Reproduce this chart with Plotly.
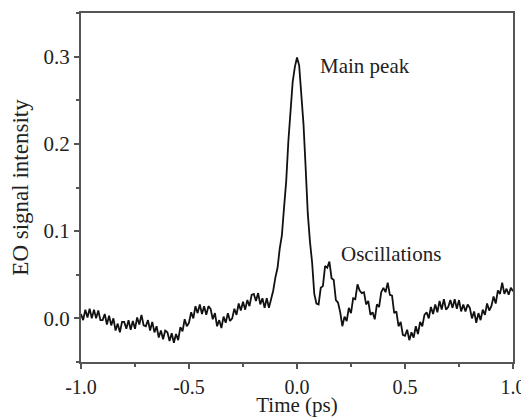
import numpy as np
import plotly.graph_objects as go

# Time axis samples (ps)
time_ps = np.round(np.linspace(-1.0, 1.0, 201), 2)

# EO signal intensity (one value per 0.01 ps, noise included)
eo_signal = [
    0.005, -0.002, 0.010, 0.001, 0.011, 0.000, 0.010, 0.000, 0.009, -0.002,
    -0.002, 0.005, -0.007, 0.003, -0.008, 0.000, -0.014, -0.006, -0.016, -0.004,
    -0.004, -0.012, -0.002, -0.013, -0.003, -0.012, 0.001, -0.007, 0.004, -0.008,
    -0.009, -0.002, -0.014, -0.004, -0.016, -0.009, -0.022, -0.014, -0.024, -0.014,
    -0.016, -0.026, -0.017, -0.028, -0.018, -0.025, -0.010, -0.015, -0.001, -0.009,
    -0.005, 0.007, 0.000, 0.014, 0.006, 0.016, 0.005, 0.014, 0.004, 0.014,
    0.011, -0.001, 0.006, -0.009, -0.002, -0.011, 0.002, -0.005, 0.006, -0.003,
    0.000, 0.011, 0.004, 0.017, 0.009, 0.019, 0.010, 0.021, 0.014, 0.027,
    0.028, 0.020, 0.029, 0.016, 0.023, 0.012, 0.023, 0.012, 0.022, 0.032,
    0.047, 0.058, 0.080, 0.095, 0.127, 0.157, 0.203, 0.235, 0.271, 0.288,
    0.299, 0.290, 0.261, 0.223, 0.173, 0.120, 0.088, 0.064, 0.028, 0.017,
    0.016, 0.035, 0.037, 0.060, 0.058, 0.065, 0.046, 0.044, 0.021, 0.018,
    0.007, -0.009, 0.002, -0.003, 0.012, 0.006, 0.023, 0.022, 0.039, 0.032,
    0.029, 0.030, 0.016, 0.020, 0.004, 0.007, -0.001, 0.016, 0.013, 0.030,
    0.035, 0.030, 0.041, 0.027, 0.026, 0.006, 0.008, -0.009, -0.004, -0.019,
    -0.020, -0.013, -0.025, -0.016, -0.022, -0.009, -0.018, -0.004, -0.009, 0.004,
    0.007, 0.000, 0.013, 0.005, 0.016, 0.007, 0.020, 0.010, 0.022, 0.010,
    0.013, 0.021, 0.012, 0.022, 0.011, 0.021, 0.008, 0.016, 0.008, 0.016,
    0.012, 0.000, 0.008, -0.005, 0.006, -0.002, 0.010, 0.004, 0.017, 0.009,
    0.014, 0.025, 0.017, 0.032, 0.028, 0.041, 0.028, 0.034, 0.027, 0.035, 0.031,
]

x_ticks = [-1.0, -0.5, 0.0, 0.5, 1.0]
x_tick_labels = ["-1.0", "-0.5", "0.0", "0.5", "1.0"]
y_ticks = [0.0, 0.1, 0.2, 0.3]
y_tick_labels = ["0.0", "0.1", "0.2", "0.3"]

annotations_text = ["Main peak", "Oscillations"]
annotations_x = [0.097, 0.194]
annotations_y = [0.289, 0.074]

FONT = "Liberation Serif, Times New Roman, serif"
AXIS_COLOR = "#555555"
TEXT_COLOR = "#222222"

fig = go.Figure()
fig.add_trace(go.Scatter(
    x=time_ps, y=eo_signal, mode="lines",
    line=dict(color="#111111", width=1.8),
    showlegend=False, hoverinfo="skip",
))

for txt, ax_, ay_ in zip(annotations_text, annotations_x, annotations_y):
    fig.add_annotation(x=ax_, y=ay_, text=txt, showarrow=False,
                       xanchor="left", yanchor="middle",
                       font=dict(family=FONT, size=21, color=TEXT_COLOR))

axis_common = dict(
    showline=True, linecolor=AXIS_COLOR, linewidth=2, mirror=True,
    ticks="outside", ticklen=5, tickwidth=1.5, tickcolor=AXIS_COLOR,
    showgrid=False, zeroline=False, automargin=False,
)

fig.update_xaxes(
    range=[-1.0, 1.0], tickvals=x_ticks, ticktext=x_tick_labels,
    ticklabelstandoff=1,
    tickfont=dict(family=FONT, size=20, color=TEXT_COLOR),
    minor=dict(dtick=0.25, ticks="outside", ticklen=3, tickcolor=AXIS_COLOR, tickwidth=1.5),
    title=dict(text="Time (ps)", font=dict(family=FONT, size=21, color=TEXT_COLOR), standoff=1),
    **axis_common,
)
fig.update_yaxes(
    range=[-0.05, 0.35], tickvals=y_ticks, ticktext=y_tick_labels,
    tickfont=dict(family=FONT, size=21, color=TEXT_COLOR),
    minor=dict(dtick=0.05, ticks="outside", ticklen=3, tickcolor=AXIS_COLOR, tickwidth=1.5),
    title=dict(text="EO signal intensity", font=dict(family=FONT, size=23, color=TEXT_COLOR), standoff=20),
    **axis_common,
)

# The page adds an 8px body margin, so the figure is sized to fit the window.
fig.update_layout(
    width=521, height=409,
    margin=dict(l=73, r=16, t=5, b=55),
    paper_bgcolor="white", plot_bgcolor="white",
)

fig.write_html("out.html")
